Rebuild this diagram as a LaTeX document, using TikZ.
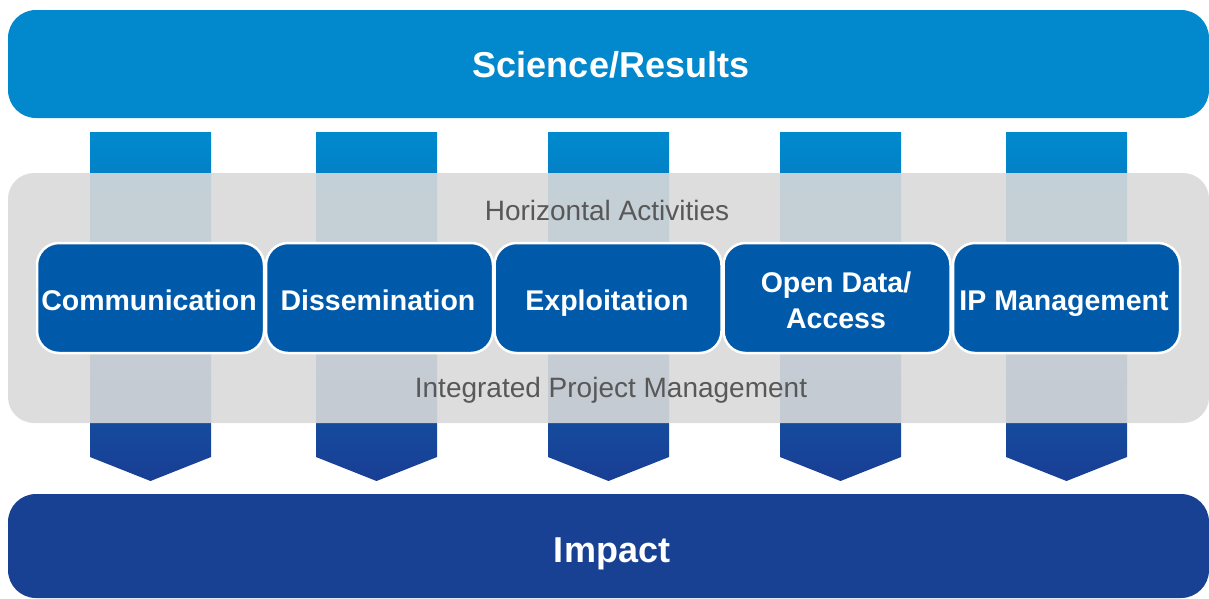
\documentclass[tikz,border=0pt]{standalone}
\usepackage{fontspec}
\setmainfont{Liberation Sans}
\definecolor{topblue}{RGB}{2,136,204}
\definecolor{impactblue}{RGB}{24,65,148}
\definecolor{boxblue}{RGB}{0,90,169}
\definecolor{arrowtop}{RGB}{0,138,206}
\definecolor{arrowbot}{RGB}{25,62,148}
\definecolor{panelgrey}{RGB}{217,217,217}
\definecolor{labelgrey}{RGB}{88,88,88}
\begin{document}
\begin{tikzpicture}[x=1pt,y=-1pt,
  bar/.style={rounded corners=28pt, inner sep=0pt, minimum width=1201pt},
  bartext/.style={anchor=base, inner sep=0pt, text=white, font=\bfseries\fontsize{36}{40}\selectfont},
  panel/.style={rounded corners=26pt, inner sep=0pt, minimum width=1201pt, minimum height=250pt,
    fill=panelgrey, fill opacity=0.9},
  activity/.style={rounded corners=22pt, inner sep=0pt, minimum width=227pt, minimum height=110pt,
    fill=boxblue, draw=white, line width=2.5pt},
  acttext/.style={anchor=base, inner sep=0pt, text=white, font=\bfseries\fontsize{28.5}{35}\selectfont},
  caption/.style={anchor=base, inner sep=0pt, text=labelgrey, font=\fontsize{28}{30}\selectfont},
  flowarrow/.style={top color=arrowtop, bottom color=arrowbot}
]
\useasboundingbox (0,0) rectangle (1209,598);
% top bar
\node[bar, fill=topblue, minimum height=108pt] (science) at (608.5,64) {};
\node[bartext] (sciencetext) at (611,77) {Science/Results};
% arrows
\foreach \cx in {150.5,376.5,608.5,840.5,1066.5}{
  \shade[flowarrow] (\cx-60.5,132) -- (\cx+60.5,132) -- (\cx+60.5,457) -- (\cx,481) -- (\cx-60.5,457) -- cycle;
}
% grey panel
\node[panel] (panel) at (608.5,298) {};
\node[caption] (horiz) at (607,220) {Horizontal Activities};
\node[caption] (ipm) at (611,397) {Integrated Project Management};
% activity boxes
\node[activity] (comm) at (150.5,298) {};
\node[activity] (diss) at (379.5,298) {};
\node[activity] (expl) at (608,298) {};
\node[activity] (open) at (837,298) {};
\node[activity] (ipman) at (1066.5,298) {};
\node[acttext] (commtext) at (149,310) {Communication};
\node[acttext] (disstext) at (378,310) {Dissemination};
\node[acttext] (expltext) at (607,310) {Exploitation};
\node[acttext] (opentext1) at (836,292) {Open Data/};
\node[acttext] (opentext2) at (836,328) {Access};
\node[acttext] (ipmantext) at (1064,310) {IP Management};
% bottom bar
\node[bar, fill=impactblue, minimum height=104pt] (impact) at (608.5,546) {};
\node[bartext] (impacttext) at (612,562) {Impact};
\end{tikzpicture}
\end{document}
